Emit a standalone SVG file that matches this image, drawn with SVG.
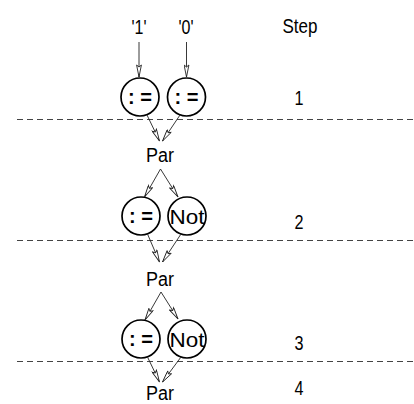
<svg xmlns="http://www.w3.org/2000/svg" width="414" height="404" viewBox="0 0 414 404">
  <style>
    text { font-family: "Liberation Sans", Arial, sans-serif; fill: #000; }
    .lbl { font-size: 20px; text-anchor: middle; }
    .op { font-size: 21px; text-anchor: middle; }
    .op.sym { font-weight: bold; }
    .node circle { fill: #fff; stroke: #000; stroke-width: 1.7; }
    .sep { stroke: #444; stroke-width: 1; stroke-dasharray: 6 4; fill: none; }
    .edge { stroke: #222; stroke-width: 0.9; fill: none; marker-end: url(#open); }
  </style>
  <defs>
    <marker id="open" viewBox="0 0 14 6" refX="13" refY="3" markerWidth="14" markerHeight="6" markerUnits="userSpaceOnUse" orient="auto">
      <path d="M1,0.6 L13,3 L1,5.4 L3,3 z" fill="#fff" stroke="#222" stroke-width="0.9"/>
    </marker>
  </defs>

  <rect width="414" height="404" fill="#fff"/>

  <!-- step separators -->
  <g id="separators">
    <line class="sep" x1="17" y1="119.5" x2="414" y2="119.5"/>
    <line class="sep" x1="17" y1="240.5" x2="414" y2="240.5"/>
    <line class="sep" x1="17" y1="361.5" x2="414" y2="361.5"/>
  </g>

  <!-- step column -->
  <g id="steps">
    <text class="lbl" x="300" y="33" textLength="35" lengthAdjust="spacingAndGlyphs">Step</text>
    <text class="lbl" x="299" y="105" textLength="9" lengthAdjust="spacingAndGlyphs">1</text>
    <text class="lbl" x="299" y="229" textLength="9" lengthAdjust="spacingAndGlyphs">2</text>
    <text class="lbl" x="299" y="350" textLength="9" lengthAdjust="spacingAndGlyphs">3</text>
    <text class="lbl" x="299" y="395" textLength="9" lengthAdjust="spacingAndGlyphs">4</text>
  </g>

  <!-- inputs -->
  <g id="in1"><text class="lbl" x="139" y="34" textLength="15" lengthAdjust="spacingAndGlyphs">'1'</text></g>
  <g id="in0"><text class="lbl" x="186" y="34" textLength="15" lengthAdjust="spacingAndGlyphs">'0'</text></g>

  <!-- step 1 -->
  <g id="assign1a" class="node"><circle cx="140" cy="97" r="19"/><text class="op sym" x="140" y="104" textLength="24" lengthAdjust="spacingAndGlyphs">: =</text></g>
  <g id="assign1b" class="node"><circle cx="186.5" cy="97" r="19"/><text class="op sym" x="186.5" y="104" textLength="24" lengthAdjust="spacingAndGlyphs">: =</text></g>
  <g id="par1"><text class="lbl" x="160" y="162" textLength="28" lengthAdjust="spacingAndGlyphs">Par</text></g>

  <!-- step 2 -->
  <g id="assign2" class="node"><circle cx="141" cy="216" r="19"/><text class="op sym" x="141" y="223" textLength="24" lengthAdjust="spacingAndGlyphs">: =</text></g>
  <g id="not2" class="node"><circle cx="187" cy="216" r="19"/><text class="op" x="187" y="223.5" textLength="35" lengthAdjust="spacingAndGlyphs">Not</text></g>
  <g id="par2"><text class="lbl" x="160" y="286" textLength="28" lengthAdjust="spacingAndGlyphs">Par</text></g>

  <!-- step 3 -->
  <g id="assign3" class="node"><circle cx="141" cy="339" r="19"/><text class="op sym" x="141" y="346" textLength="24" lengthAdjust="spacingAndGlyphs">: =</text></g>
  <g id="not3" class="node"><circle cx="187" cy="339" r="19"/><text class="op" x="187" y="346.5" textLength="35" lengthAdjust="spacingAndGlyphs">Not</text></g>
  <g id="par3"><text class="lbl" x="160" y="400" textLength="28" lengthAdjust="spacingAndGlyphs">Par</text></g>

  <!-- connectors -->
  <g id="connectors">
    <line class="edge" x1="139" y1="42" x2="139" y2="77"/>
    <line class="edge" x1="186.5" y1="42" x2="186.5" y2="77"/>

    <line class="edge" x1="147" y1="115" x2="159.5" y2="141"/>
    <line class="edge" x1="180" y1="115" x2="162.5" y2="141"/>

    <line class="edge" x1="160.5" y1="169" x2="144.5" y2="197"/>
    <line class="edge" x1="160.5" y1="169" x2="178" y2="197"/>

    <line class="edge" x1="147.5" y1="234" x2="159.5" y2="262"/>
    <line class="edge" x1="181" y1="234" x2="162.5" y2="262"/>

    <line class="edge" x1="161" y1="292" x2="145" y2="320"/>
    <line class="edge" x1="161" y1="292" x2="178" y2="319"/>

    <line class="edge" x1="147.5" y1="357" x2="159.5" y2="382"/>
    <line class="edge" x1="181" y1="357" x2="162.5" y2="382"/>
  </g>
</svg>
